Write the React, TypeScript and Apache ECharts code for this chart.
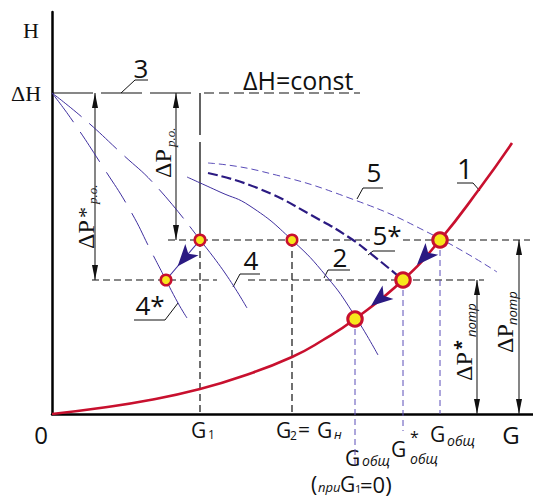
import React, { useEffect, useRef } from 'react';
import * as echarts from 'echarts';

// ---- data (diagram units: G horizontally, H vertically) ----
const G_MAX = 481;
const H_MAX = 402;

const DELTA_H = 321;
const LEVEL_A = 174; // ΔP потр
const LEVEL_B = 134; // ΔP* потр

const G1 = 148;
const G2 = 240;
const G_4STAR = 114;
const G_OBSH_0 = 303;
const H_OBSH_0 = 95;
const G_OBSH_STAR = 351;
const G_OBSH = 388;

const curve1 = [[0, 0], [48, 6], [98, 14], [148, 25], [191, 38], [240, 57], [271, 74], [303, 95], [351, 134], [388, 174], [428, 226], [460, 271]];
const curve2 = [[135, 237], [168, 222], [198, 208], [240, 174], [275, 137], [301, 101], [326, 59]];
const curve4Dashed = [[0, 321], [31, 296], [68, 262], [105, 227], [148, 174]];
const curve4Solid = [[148, 174], [173, 141], [195, 106]];
const curve4sDashed = [[0, 321], [20, 294], [51, 247], [78, 204], [100, 161], [114, 134]];
const curve4sSolid = [[114, 134], [126, 111], [135, 96]];
const curve5 = [[156, 251], [208, 243], [300, 215], [381, 179], [445, 142]];
const curve5s = [[156, 241], [208, 225], [268, 194], [298, 176], [318, 161], [351, 134]];

const deltaHLong = [[0, DELTA_H], [141, DELTA_H]];
const deltaHShort = [[152, DELTA_H], [308, DELTA_H]];
const levelA1 = [[116, LEVEL_A], [318, LEVEL_A]];
const levelA2 = [[351, LEVEL_A], [478, LEVEL_A]];
const levelB1 = [[40, LEVEL_B], [165, LEVEL_B]];
const levelB2 = [[196, LEVEL_B], [432, LEVEL_B]];

const vertG1Upper = [[G1, DELTA_H], [G1, LEVEL_A]];
const vertG1Lower = [[G1, LEVEL_A], [G1, 0]];
const vertG2 = [[G2, LEVEL_A], [G2, 0]];
const vertObsh0 = [[G_OBSH_0, H_OBSH_0], [G_OBSH_0, -51]];
const vertObshStar = [[G_OBSH_STAR, LEVEL_B], [G_OBSH_STAR, -17]];
const vertObsh = [[G_OBSH, LEVEL_A], [G_OBSH, 0]];

// dimension arrows: [G, H top, H bottom]
const dimArrows = [[43, DELTA_H, LEVEL_B], [124, DELTA_H, LEVEL_A], [425, LEVEL_B, 0], [467, LEVEL_A, 0]];

const pointsSmall = [[G1, LEVEL_A], [G2, LEVEL_A], [G_4STAR, LEVEL_B]];
const pointsBig = [[G_OBSH, LEVEL_A], [G_OBSH_STAR, LEVEL_B], [G_OBSH_0, H_OBSH_0]];

// operating-point moves: [from, to, radius of target marker]
const moves: [number[], number[], number][] = [
  [[G1, LEVEL_A], [G_4STAR, LEVEL_B], 7],
  [[G_OBSH, LEVEL_A], [G_OBSH_STAR, LEVEL_B], 9.5],
  [[G_OBSH_STAR, LEVEL_B], [G_OBSH_0, H_OBSH_0], 9.5],
];
const moveLine = [[G1, LEVEL_A], [G_4STAR, LEVEL_B]];

// ---- styles ----
const RED = '#c8102e';
const YELLOW = '#f7e71c';
const PURPLE = '#3f2f9f';
const PURPLE_DARK = '#2b1a82';
const PURPLE_LIGHT = '#5a4cb8';
const INK = '#111';
const SANS = '"Open Sans", "Noto Sans", sans-serif';
const SERIF = '"Liberation Serif", "DejaVu Serif", serif';
const CHEV_W = 13;
const CHEV_H = 22;

function seg(data: number[][], color: string, width: number, dash: any, smooth: any = false, z = 2) {
  return {
    type: 'line', data, symbol: 'none', smooth, clip: false, silent: true, z,
    lineStyle: { color, width, type: dash },
  };
}

function txt(text: string, x: number, y: number, size: number, o: any = {}) {
  return {
    type: 'text', x, y, silent: true,
    style: {
      text, fontSize: size, fontFamily: o.family || SANS, fontStyle: o.italic ? 'italic' : 'normal',
      fontWeight: o.bold ? 'bold' : 'normal',
      fill: INK, align: o.align || 'left', verticalAlign: 'middle',
    },
  };
}

function leader(points: number[][]) {
  return { type: 'polyline', silent: true, shape: { points }, style: { stroke: INK, lineWidth: 1, fill: null } };
}

function rotGroup(x: number, y: number, children: any[]) {
  return { type: 'group', x, y, rotation: Math.PI / 2, children };
}

function shorten(from: number[], to: number[], d: number) {
  const dx = from[0] - to[0];
  const dy = from[1] - to[1];
  const len = Math.sqrt(dx * dx + dy * dy);
  return [to[0] + (dx / len) * d, to[1] + (dy / len) * d];
}

export default function App() {
  const ref = useRef<HTMLDivElement>(null);
  useEffect(() => {
    if (!ref.current) return;
    const chart = echarts.init(ref.current, null, { renderer: 'svg' });
    const axisCommon = {
      type: 'value', min: 0,
      axisLine: { show: true, lineStyle: { color: '#000', width: 2.5 } },
      axisTick: { show: false }, axisLabel: { show: false }, splitLine: { show: false },
    };
    const chevrons = moves.map(([from, to, r]) => {
      const ang = (Math.atan2(to[1] - from[1], to[0] - from[0]) * 180) / Math.PI;
      return { value: shorten(from, to, r + CHEV_H / 2), symbolRotate: ang - 90 };
    });
    const option: any = {
      animation: false,
      grid: { left: 52, right: 0, top: 12, bottom: 84 },
      xAxis: { ...axisCommon, max: G_MAX },
      yAxis: { ...axisCommon, max: H_MAX },
      series: [
        seg(deltaHLong, INK, 1.2, [41, 8]),
        seg(deltaHShort, INK, 1.2, [10, 5]),
        seg(levelA1, INK, 1.2, [7, 4]),
        seg(levelA2, INK, 1.2, [7, 4]),
        seg(levelB1, INK, 1.2, [7, 4]),
        seg(levelB2, INK, 1.2, [7, 4]),
        seg(vertG1Upper, INK, 1.3, [42, 7, 400, 0]),
        seg(vertG1Lower, INK, 1.2, [7, 4]),
        seg(vertG2, INK, 1.2, [7, 4]),
        seg(vertObsh0, PURPLE_LIGHT, 1, [6, 4]),
        seg(vertObshStar, PURPLE_LIGHT, 1, [6, 4]),
        seg(vertObsh, PURPLE_LIGHT, 1, [6, 4]),
        ...dimArrows.map(([g, h1, h2]) => seg([[g, h1], [g, h2]], '#222', 1.1, 'solid')),
        seg(curve4Dashed, PURPLE, 1, [38, 10], 0.5),
        seg(curve4Solid, PURPLE, 1, 'solid', 0.5),
        seg(curve4sDashed, PURPLE, 1, [36, 12], 0.5),
        seg(curve4sSolid, PURPLE, 1, 'solid', 0.5),
        seg(curve2, PURPLE, 1, 'solid', 0.5),
        seg(curve5, PURPLE_LIGHT, 1, [7, 4], 0.5),
        seg(curve5s, PURPLE_DARK, 2.2, [10, 4], 0.5),
        seg(moveLine, PURPLE, 1.1, 'solid'),
        seg(curve1, RED, 2.6, 'solid', 0.5, 3),
        {
          type: 'scatter', silent: true, z: 4,
          symbol: 'triangle', symbolSize: [6, 15], symbolOffset: [0, '50%'],
          itemStyle: { color: '#111', opacity: 1 },
          data: dimArrows.map(([g, h1]) => [g, h1]),
        },
        {
          type: 'scatter', silent: true, z: 4,
          symbol: 'triangle', symbolSize: [6, 15], symbolRotate: 180, symbolOffset: [0, '-50%'],
          itemStyle: { color: '#111', opacity: 1 },
          data: dimArrows.map(([g, , h2]) => [g, h2]),
        },
        {
          type: 'scatter', silent: true, z: 6,
          symbol: 'arrow', symbolSize: [CHEV_W, CHEV_H],
          itemStyle: { color: PURPLE_DARK, opacity: 1 },
          data: chevrons,
        },
        {
          type: 'scatter', data: pointsSmall, symbol: 'circle', symbolSize: 10.5, silent: true, z: 5,
          itemStyle: { color: YELLOW, borderColor: RED, borderWidth: 2.5, opacity: 1 },
        },
        {
          type: 'scatter', data: pointsBig, symbol: 'circle', symbolSize: 14.5, silent: true, z: 5,
          itemStyle: { color: YELLOW, borderColor: RED, borderWidth: 3, opacity: 1 },
        },
      ],
      graphic: {
        elements: [
          txt('H', 31, 30, 22, { family: SERIF, align: 'center' }),
          txt('ΔH', 26, 93, 22, { family: SERIF, align: 'center' }),
          txt('ΔH=const', 243, 80, 25),
          txt('3', 141, 68, 26, { align: 'center' }),
          leader([[148, 80], [135, 80], [121, 93]]),
          txt('1', 465, 168, 28, { align: 'center' }),
          leader([[457, 183], [473, 183], [480, 191]]),
          txt('2', 340, 257, 26, { align: 'center' }),
          leader([[350, 270], [328, 270], [324, 278]]),
          txt('4', 251, 260, 26, { align: 'center' }),
          leader([[260, 274], [240, 274], [233, 287]]),
          txt('4*', 150, 305, 26, { align: 'center' }),
          leader([[134, 320], [165, 320], [178, 303]]),
          txt('5', 374, 172, 26, { align: 'center' }),
          leader([[383, 188], [363, 188], [357, 199]]),
          txt('5*', 387, 235, 26, { align: 'center' }),
          leader([[395, 251], [373, 251], [368, 255]]),
          // x-axis labels
          txt('0', 41, 434, 24, { align: 'center' }),
          txt('G', 511, 434, 24, { align: 'center' }),
          txt('G', 191, 430, 21),
          txt('1', 208, 434, 12),
          txt('G', 276, 430, 21),
          txt('2', 290, 435, 12),
          txt('=', 298, 429, 21),
          txt('G', 317, 430, 21),
          txt('н', 334, 434, 13, { italic: true }),
          txt('G', 345, 458, 21),
          txt('общ', 362, 460, 14, { italic: true }),
          txt('(', 311, 484, 21),
          txt('при', 318, 487, 13, { italic: true }),
          txt('G', 340, 484, 21),
          txt('1', 355, 488, 11),
          txt('=0)', 360, 484, 22),
          txt('G', 391, 449, 21),
          txt('*', 410, 437, 16),
          txt('общ', 410, 458, 14, { italic: true }),
          txt('G', 430, 434, 21),
          txt('общ', 447, 440, 14, { italic: true }),
          // rotated dimension labels
          rotGroup(86, 249, [
            txt('ΔP', 0, 0, 24, { family: SERIF }),
            txt('*', 31, -1, 22, { family: SERIF }),
            txt('р.о.', 45, 6, 13, { family: SERIF, italic: true }),
          ]),
          rotGroup(163, 178, [
            txt('ΔP', 0, 0, 24, { family: SERIF }),
            txt('р.о.', 31, 7, 13, { family: SERIF, italic: true }),
          ]),
          rotGroup(464, 381, [
            txt('ΔP', 0, 0, 24, { family: SERIF }),
            txt('*', 31, -3, 18, { bold: true }),
            txt('потр', 44, 7, 13, { italic: true }),
          ]),
          rotGroup(505, 353, [
            txt('ΔP', 0, 0, 24, { family: SERIF }),
            txt('потр', 28, 7, 13, { italic: true }),
          ]),
        ],
      },
    };
    chart.setOption(option);
    return () => chart.dispose();
  }, []);
  return (
    <div
      ref={ref}
      style={{ position: 'fixed', left: 0, top: 0, width: 533, height: 498, background: '#fff' }}
    />
  );
}
